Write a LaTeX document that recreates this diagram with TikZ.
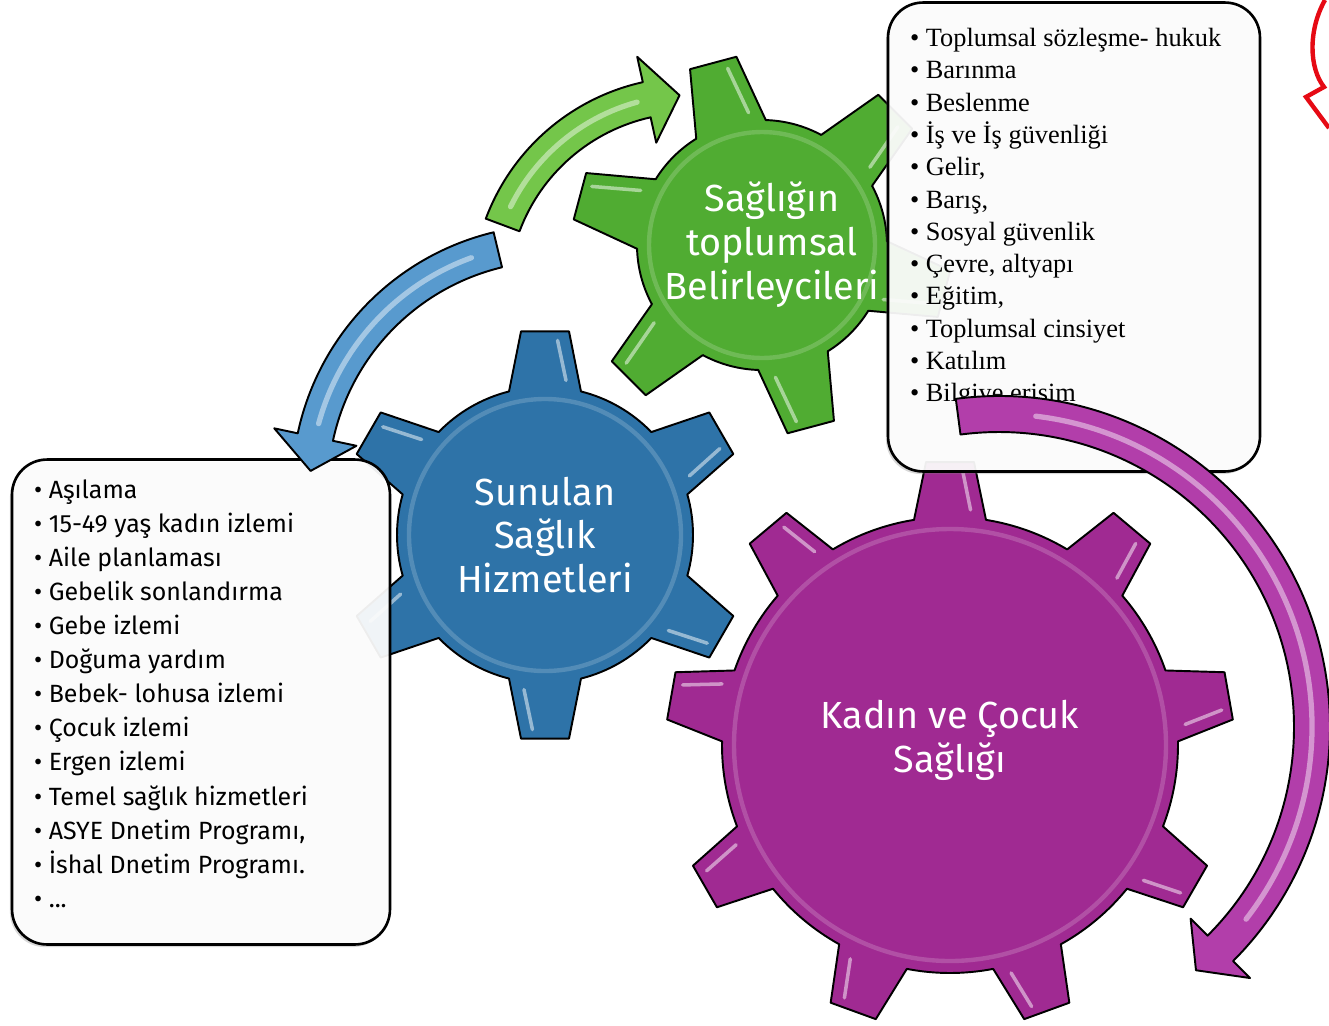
\documentclass[tikz,border=0pt]{standalone}
\usepackage{fontspec}
\setmainfont{Liberation Serif}
\setsansfont{Fira Sans}
\usepackage{tikz}
\usetikzlibrary{positioning, shadows}

\definecolor{socgreen}{RGB}{80,172,50}
\definecolor{svcblue}{RGB}{46,115,168}
\definecolor{mchpurple}{RGB}{160,42,146}
\definecolor{arrgreen}{RGB}{116,198,74}
\definecolor{arrblue}{RGB}{88,154,206}
\definecolor{arrpurple}{RGB}{178,62,170}
\definecolor{callred}{RGB}{230,10,20}

\begin{document}
\begin{tikzpicture}[
        x=0.02cm, y=-0.02cm,
        every node/.style={inner sep=0pt},
        outline/.style={draw=black, line width=1.1pt, line join=round},
        gearlabel/.style={text=white, align=center,
            font=\sffamily\fontsize{21.5}{25}\selectfont},
        listbox/.style={
            rectangle, rounded corners=0.7cm, draw=black, line width=1.5pt,
            fill=white, fill opacity=0.92,
            drop shadow={shadow xshift=-1.2pt, shadow yshift=-1.5pt, opacity=0.3}
        },
        svclist/.style={align=left, font=\sffamily\fontsize{14.2}{19.4}\selectfont},
        soclist/.style={align=left, font=\rmfamily\fontsize{15}{18.4}\selectfont},
        pics/cog/.style n args={5}{code={
            \pgfmathsetmacro\cogA{asin(36/#3)}
            \pgfmathsetmacro\cogB{asin(24/#4)}
            \pgfmathsetmacro\cogS{360/#1}
            \filldraw[fill=#5, outline] ({#2-\cogA}:#3)
                \foreach \k in {1,...,#1} {
                    -- ({#2+(\k-1)*\cogS-\cogB}:#4) -- ({#2+(\k-1)*\cogS+\cogB}:#4)
                    -- ({#2+(\k-1)*\cogS+\cogA}:#3)
                    arc[start angle={#2+(\k-1)*\cogS+\cogA},
                        end angle={#2+\k*\cogS-\cogA}, radius=#3]
                } -- cycle;
            \draw[white, opacity=0.18, line width=2.5pt] (0,0) circle[radius={#3-12}];
            \foreach \k in {1,...,#1}
                \draw[white, opacity=0.5, line width=2pt, line cap=round]
                    ({#2+(\k-1)*\cogS+0.55*\cogB}:{#4-10}) -- ({#2+(\k-1)*\cogS+0.55*\cogA}:{#3+8});
        }},
        pics/ringarrow/.style n args={7}{code={
            \filldraw[fill=#7, outline] (#3:{#1+#2/2})
                arc[start angle=#3, end angle=#4, radius={#1+#2/2}]
                -- (#4:{#1+#6}) -- (#5:#1) -- (#4:{#1-#6}) -- (#4:{#1-#2/2})
                arc[start angle=#4, end angle=#3, radius={#1-#2/2}] -- cycle;
            \draw[white, opacity=0.45, line width=3pt, line cap=round]
                ({#3+0.1*(#4-#3)}:#1) arc[start angle={#3+0.1*(#4-#3)}, end angle={#4-0.05*(#4-#3)}, radius=#1];
        }}
        ]

    \useasboundingbox (0,0) rectangle (1329,1025);
    \fill[white] (0,0) rectangle (1329,1025);

    % --- Dişliler ---
        \coordinate (socgear) at (762,245);
        \coordinate (svcgear) at (545,535);
        \coordinate (mchgear) at (950,745);

        \pic at (socgear) {cog={6}{15}{125}{190}{socgreen}};
        \pic at (svcgear) {cog={6}{30}{148}{205}{svcblue}};
        \pic at (mchgear) {cog={9}{30}{228}{284}{mchpurple}};

        \node[gearlabel, xshift=0.2cm] (soclabel) at (socgear) {Sağlığın\\ toplumsal\\ Belirleycileri};
        \node[gearlabel] (svclabel) at (svcgear) {Sunulan\\ Sağlık\\ Hizmetleri};
        \node[gearlabel, yshift=0.1cm] (mchlabel) at (mchgear) {Kadın ve Çocuk\\ Sağlığı};

    % --- Liste kutuları ---
        \node[listbox, minimum width=7.56cm, minimum height=9.7cm] (svcbox) at (201,702) {};
        \node[svclist, below right=0.42cm and 0.46cm of svcbox.north west] (svcitems)
            {• Aşılama\\ • 15-49 yaş kadın izlemi\\ • Aile planlaması\\ • Gebelik sonlandırma\\
             • Gebe izlemi\\ • Doğuma yardım\\ • Bebek- lohusa izlemi\\ • Çocuk izlemi\\
             • Ergen izlemi\\ • Temel sağlık hizmetleri\\ • ASYE Dnetim Programı,\\
             • İshal Dnetim Programı.\\ • ...};

        \node[listbox, minimum width=7.44cm, minimum height=9.38cm] (socbox) at (1074,237) {};
        \node[soclist, below right=0.53cm and 0.46cm of socbox.north west] (socitems)
            {• Toplumsal sözleşme- hukuk\\ • Barınma\\ • Beslenme\\ • İş ve İş güvenliği\\
             • Gelir,\\ • Barış,\\ • Sosyal güvenlik\\ • Çevre, altyapı\\ • Eğitim,\\
             • Toplumsal cinsiyet\\ • Katılım\\ • Bilgiye erişim};

    % --- Döngü okları ---
        \coordinate (greenring) at (690,295);
        \coordinate (bluering) at (555,488);
        \coordinate (purplering) at (999,727);

        \pic at (greenring) {ringarrow={200}{36}{200.5}{257.5}{267}{44}{arrgreen}};
        \pic at (bluering) {ringarrow={245}{36}{256.5}{192}{184}{42}{arrblue}};
        \pic at (purplering) {ringarrow={313}{36}{262.5}{405}{411}{42}{arrpurple}};

    % kenarda kalan kırmızı parça
        \draw[callred, line width=2.5pt, line join=miter]
            (1325,0) .. controls (1308,30) and (1309,68) .. (1324,87) -- (1306,97) -- (1329,128);

\end{tikzpicture}
\end{document}
